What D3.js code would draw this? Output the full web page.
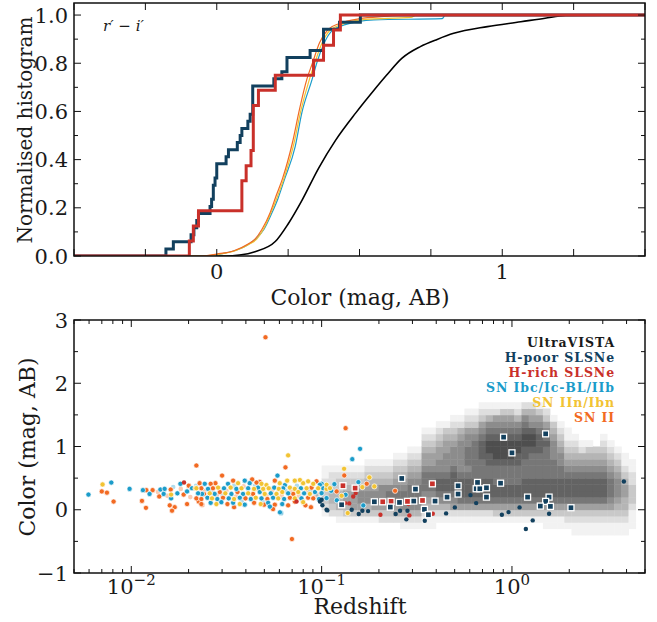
<!DOCTYPE html>
<html><head><meta charset="utf-8">
<script src="https://cdn.jsdelivr.net/npm/d3@7"></script>
<style>body{margin:0;background:#fff} text{font-family:"DejaVu Serif",serif;fill:#1a1a1a}</style>
</head><body><svg id="c" width="657" height="622"></svg>
<script>
// ---------- DATA ----------
// Top panel: cumulative colour distributions (r'-i')
const hPoorColors = [-0.178,-0.152,-0.09,-0.08,-0.07,-0.064,-0.0235,-0.018,-0.012,-0.012,-0.006,0.0,0.0,0.0327,0.041,0.072,0.082,0.088,0.109,0.117,0.126,0.126,0.126,0.126,0.2,0.228,0.246,0.246,0.327,0.374,0.374,0.374,0.43,0.503];
const hRichColors = [-0.096,-0.082,-0.064,0.088,0.088,0.103,0.12,0.128,0.128,0.128,0.146,0.205,0.339,0.374,0.409,0.433];
const ibcCdfX = [-0.5,-0.03,0.02,0.07,0.12,0.14,0.165,0.193,0.215,0.237,0.275,0.298,0.334,0.35,0.375,0.4,0.45,0.55,0.79,0.8,1.5];
const ibcCdfY = [0,0,0.01,0.025,0.055,0.075,0.11,0.178,0.24,0.317,0.455,0.594,0.733,0.8,0.88,0.93,0.96,0.98,0.985,1,1];
const iinCdfX = [-0.5,-0.04,0.01,0.065,0.115,0.14,0.163,0.19,0.212,0.234,0.27,0.294,0.325,0.343,0.368,0.395,0.44,0.52,0.68,0.7,1.5];
const iinCdfY = [0,0,0.008,0.022,0.05,0.07,0.11,0.18,0.245,0.317,0.465,0.6,0.735,0.8,0.882,0.935,0.962,0.982,0.99,1,1];
const iiCdfX = [-0.5,-0.05,0.0,0.06,0.11,0.134,0.158,0.187,0.208,0.23,0.265,0.29,0.316,0.335,0.36,0.39,0.43,0.5,0.6,0.65,1.5];
const iiCdfY = [0,0,0.008,0.022,0.05,0.07,0.11,0.18,0.25,0.32,0.47,0.61,0.735,0.8,0.885,0.94,0.965,0.985,0.995,1,1];
const vistaCdfX = [-0.5,0.03,0.08,0.134,0.205,0.251,0.298,0.357,0.416,0.487,0.552,0.596,0.649,0.713,0.772,0.83,0.948,1.065,1.15,1.222,1.5];
const vistaCdfY = [0,0,0.004,0.018,0.06,0.135,0.23,0.365,0.48,0.594,0.69,0.752,0.821,0.869,0.899,0.924,0.952,0.972,0.987,0.998,1];
const topXTicks = [-0.5,-0.25,0,0.25,0.5,0.75,1,1.25,1.5];
const topXLabels = {"0":"0","1":"1"};
const topYTicks = [0,0.1,0.2,0.3,0.4,0.5,0.6,0.7,0.8,0.9,1.0];

// Bottom panel: UltraVISTA 2D histogram (columns in log10 z, rows in colour, digit = density 0-9)
const gridLogZ0 = -1.0, gridDLogZ = 0.0375, gridC0 = -0.8, gridDC = 0.1;
const vistaGrid = [
"000000012332211","000000023443221","000000124443321","000000134554321","000000135554321",
"000000135665321","0000001346654321","0000001356654321","0000002356664321","0000002356764321",
"00000024577654321","00000124677654321","000001246777654321","000001246777654321","000001124567776554321",
"000001124567776554321","0000001246788766554321","0000001246788766655431","00000012567888766654321","00000012578887666665421",
"000000125788876777665321","000000125788877777765321","0000001257888777888765321","0000001257888778899876421","0000001357887778999876521",
"0000001357887778999876531","0000001357887778999876531","0000001357887778899876421","0000001357888777889987642","0000001357888777789986542",
"0000001357888777788876531","000001135788877777876532","00000113578887776665431","0000011357888776654321","000001235788876543211",
"00001123578887654321","0000112357888765421","0000112357888765431","000011235788876543","00001123578887654321",
"0000112356777654321","000011234566654321","00001123445543211","0000011123332211"];

// Bottom panel points: [log10 redshift, colour]
const snIbc = [[-2.225,0.24],[-2.105,0.43],[-2.009,0.33],[-1.939,0.31],[-1.904,0.25],[-1.847,0.32],[-1.825,0.33],[-1.83,0.25],[-1.791,0.18],[-1.758,0.26],[-1.742,0.41],[-1.707,0.29],[-1.681,0.34],[-1.628,0.25],
[-1.614,0.41],[-1.492,0.41],[-1.404,0.46],[-1.378,0.42],[-1.193,0.39],[-1.0,0.41],[-1.597,0.33],[-1.513,0.34],[-1.448,0.33],[-1.386,0.34],[-1.334,0.35],[-1.249,0.35],[-1.202,0.34],[-1.109,0.34],[-0.992,0.34],[-1.649,0.26],[-1.562,0.25],[-1.474,0.25],[-1.413,0.25],[-1.325,0.28],[-1.267,0.26],[-1.176,0.26],[-1.092,0.26],[-1.035,0.28],[-1.6,0.19],[-1.548,0.17],[-1.488,0.18],[-1.43,0.19],[-1.372,0.17],[-1.316,0.18],[-1.255,0.19],[-1.197,0.17],[-1.106,0.18],[-1.014,0.17],[-1.583,0.11],[-1.527,0.12],[-1.465,0.11],[-1.404,0.08],[-1.281,0.11],[-1.207,0.09],[-1.272,0.05],[-1.214,-0.05],[-1.232,0.54],[-1.219,-0.04],
[-0.798,0.963],[-0.839,0.80],[-0.807,0.437],[-0.874,0.237],[-0.933,0.405],[-1.0,0.263],[-0.974,0.184],[-1.009,0.395],[-0.781,0.069],[-0.95,0.3],[-0.92,0.15]];
const snIIn = [[-2.151,0.40],[-1.791,0.24],[-1.663,0.34],[-1.176,0.86],[-1.439,0.42],[-1.316,0.41],[-1.29,0.39],[-1.22,0.42],[-1.181,0.46],[-1.141,0.46],[-1.114,0.47],[-1.097,0.42],[-1.071,0.45],[-1.044,0.41],
[-1.658,0.34],[-1.544,0.35],[-1.478,0.35],[-1.421,0.34],[-1.355,0.33],[-1.307,0.33],[-1.278,0.34],[-1.225,0.33],[-1.167,0.35],[-1.141,0.33],[-1.079,0.34],[-1.018,0.34],[-0.974,0.33],
[-1.588,0.26],[-1.506,0.26],[-1.386,0.26],[-1.299,0.25],[-1.237,0.25],[-1.207,0.28],[-1.123,0.28],[-1.062,0.25],[-1.576,0.18],[-1.46,0.17],[-1.346,0.19],[-1.228,0.18],[-1.141,0.18],[-1.553,0.09],[-1.43,0.09],[-1.32,0.09],[-1.097,0.12],
[-0.882,0.648],[-0.749,0.511],[-0.723,0.369],[-0.786,0.358],[-0.895,0.221],[-0.863,-0.052],[-0.974,0.395],[-0.956,0.342]];
const snII = [[-2.155,0.29],[-2.128,0.27],[-2.093,0.13],[-1.921,0.31],[-1.888,0.31],[-1.944,0.14],[-1.923,0.03],[-1.853,0.21],[-1.793,0.32],[-1.798,0.07],[-1.772,0.04],[-1.786,-0.015],[-1.698,0.38],[-1.707,0.09],[-1.725,0.24],[-1.646,0.13],[-1.628,0.08],
[-1.658,0.70],[-1.19,0.67],[-1.523,0.54],[-1.365,0.48],[-1.465,0.46],[-1.246,0.46],[-1.325,0.44],[-1.558,0.42],[-1.641,0.42],[-1.583,0.41],[-1.342,0.43],[-1.027,0.45],[-1.632,0.34],[-1.571,0.34],[-1.053,0.35],
[-1.618,0.25],[-1.535,0.28],[-1.442,0.28],[-1.36,0.25],[-1.149,0.25],[-1.004,0.26],[-1.658,0.18],[-1.632,0.17],[-1.518,0.19],[-1.4,0.18],[-1.285,0.17],[-1.167,0.19],[-1.071,0.19],[-1.044,0.18],
[-1.632,0.09],[-1.495,0.09],[-1.355,0.11],[-1.246,0.08],[-1.176,0.07],[-1.141,0.13],[-1.085,0.07],[-1.056,0.04],[-1.46,0.04],[-1.302,0.08],[-1.255,0.01],
[-1.295,2.727],[-1.156,-0.463],[-0.874,1.29],[-0.881,0.542],[-0.763,0.411],[-0.921,0.29],[-0.614,0.30]];
// faint (lighter) members of the low-redshift cloud
const snIIPale = [[-1.86,0.28],[-1.81,0.22],[-1.74,0.33],[-1.69,0.2],[-1.62,0.3],[-1.55,0.22],[-1.50,0.3],[-1.45,0.21],[-1.41,0.37],[-1.37,0.22],[-1.33,0.30],[-1.29,0.22],[-1.26,0.31],[-1.21,0.22],[-1.16,0.3],[-1.12,0.22],[-1.08,0.3],[-1.03,0.22]];
const snIbcPale = [[-1.78,0.36],[-1.66,0.38],[-1.58,0.3],[-1.52,0.22],[-1.46,0.38],[-1.42,0.13],[-1.35,0.38],[-1.31,0.13],[-1.24,0.25],[-1.19,0.3],[-1.13,0.38],[-1.1,0.14],[-1.06,0.3],[-1.02,0.24]];
const hRichSq = [[-0.888,0.38],[-0.824,0.342],[-0.679,0.126],[-0.635,0.132],[-0.549,0.132],[-0.47,0.147],[-0.418,0.41]];
const hRichDot = [[-1.723,0.43],[-1.132,0.131],[-0.877,0.105],[-0.855,0.1],[-0.834,0.21],[-0.821,0.263],[-0.691,-0.079],[-0.544,0.09],[-0.539,-0.089],[-0.416,-0.063]];
const hPoorSq = [[-0.895,0.079],[-0.723,0.126],[-0.639,0.042],[-0.591,0.116],[-0.579,0.495],[-0.516,0.137],[-0.507,0.326],[-0.46,0.006],[-0.439,-0.079],[-0.404,0.137],[-0.341,0.2],[-0.283,0.379],[-0.283,0.248],[-0.181,0.432],[-0.188,0.332],[-0.169,0.332],[-0.134,0.347],[-0.134,0.2],[-0.06,0.42],[-0.044,1.148],[0.177,1.2],[0.0,0.9],[0.082,0.2],[0.195,0.2],[0.177,0.132],[0.149,0.058],[0.202,0.053],[0.31,0.032]];
const hPoorDot = [[-1.009,0.13],[-0.974,0.0],[-0.996,0.07],[-1.0,0.158],[-0.97,-0.01],[-0.842,0.0],[-0.805,-0.068],[-0.786,-0.015],[-0.756,-0.021],[-0.611,-0.068],[-0.588,-0.015],[-0.549,-0.015],[-0.555,-0.152],[-0.458,-0.173],[-0.346,-0.058],[-0.3,0.037],[-0.218,0.232],[-0.188,0.105],[-0.053,-0.079],[-0.018,-0.037],[0.04,0.037],[0.109,-0.168],[0.073,-0.305],[0.195,-0.063],[0.588,0.447]];

const legendLabels = ["UltraVISTA","H-poor SLSNe","H-rich SLSNe","SN Ibc/Ic-BL/IIb","SN IIn/Ibn","SN II"];
const legendColors = ["#1a1a1a","#12405e","#c9302a","#1b9cca","#f2c333","#f26a22"];
const bottomYTicks = [-1,-0.5,0,0.5,1,1.5,2,2.5,3];

// ---------- DRAW ----------
const C = {vista:"#000", hpoor:"#12405e", hrich:"#c9302a", ibc:"#1b9cca", iin:"#f2c333", ii:"#f26a22"};
const svg = d3.select("#c");
const X0 = 74, X1 = 645;
const FS = 21;

// ===== top panel =====
const xT = d3.scaleLinear().domain([-0.5,1.5]).range([X0,X1]);
const yT = d3.scaleLinear().domain([0,1.05]).range([256,3]);
const gT = svg.append("g");
gT.append("clipPath").attr("id","ct").append("rect").attr("x",X0).attr("y",3).attr("width",X1-X0).attr("height",253);
const gl = gT.append("g").attr("clip-path","url(#ct)");
const lineT = d3.line().x(d=>xT(d[0])).y(d=>yT(d[1]));
function curve(xs, ys, col, w){
  gl.append("path").datum(xs.map((v,i)=>[v,ys[i]])).attr("d",lineT.curve(d3.curveMonotoneX))
    .attr("fill","none").attr("stroke",col).attr("stroke-width",w).attr("stroke-linejoin","round");
}
function ecdf(vals){
  const s = vals.slice().sort((a,b)=>a-b), n = s.length, pts=[[-0.5,0]];
  s.forEach((v,i)=>{ if(i===n-1 || s[i+1]!==v) pts.push([v,(i+1)/n]); });
  pts.push([1.5,1]); return pts;
}
function step(vals, col, w){
  gl.append("path").datum(ecdf(vals)).attr("d",lineT.curve(d3.curveStepAfter))
   .attr("fill","none").attr("stroke",col).attr("stroke-width",w);
}
curve(vistaCdfX, vistaCdfY, C.vista, 1.6);
curve(ibcCdfX, ibcCdfY, C.ibc, 1.2);
curve(iinCdfX, iinCdfY, C.iin, 1.2);
curve(iiCdfX, iiCdfY, C.ii, 1.2);
step(hPoorColors, C.hpoor, 3);
step(hRichColors, C.hrich, 3);

gT.append("rect").attr("x",X0).attr("y",3).attr("width",X1-X0).attr("height",253).attr("fill","none").attr("stroke","#111").attr("stroke-width",1.5);
topXTicks.forEach(v=>{
  const x = xT(v);
  gT.append("line").attr("x1",x).attr("x2",x).attr("y1",256).attr("y2",249).attr("stroke","#111").attr("stroke-width",1);
  gT.append("line").attr("x1",x).attr("x2",x).attr("y1",3).attr("y2",10).attr("stroke","#111").attr("stroke-width",1);
  if (topXLabels[String(v)]!==undefined) gT.append("text").attr("x",x).attr("y",279).attr("text-anchor","middle").attr("font-size",FS).text(topXLabels[String(v)]);
});
topYTicks.forEach((v,i)=>{
  const y = yT(v), L = i%2===0 ? 7 : 4;
  gT.append("line").attr("x1",X0).attr("x2",X0+L).attr("y1",y).attr("y2",y).attr("stroke","#111");
  gT.append("line").attr("x1",X1).attr("x2",X1-L).attr("y1",y).attr("y2",y).attr("stroke","#111");
  if (i%2===0) gT.append("text").attr("x",68).attr("y",y).attr("dy","0.36em").attr("text-anchor","end").attr("font-size",FS).text(v.toFixed(1));
});
gT.append("text").attr("x",360).attr("y",305).attr("text-anchor","middle").attr("font-size",22).text("Color (mag, AB)");
gT.append("text").attr("transform","translate(32,130) rotate(-90)").attr("text-anchor","middle").attr("font-size",20).text("Normalised histogram");
gT.append("text").attr("x",103).attr("y",31).attr("font-size",15).attr("font-style","italic").text("r′ − i′");

// ===== bottom panel =====
const xB = d3.scaleLog().domain([0.005,5]).range([X0,X1]);
const yB = d3.scaleLinear().domain([-1,3]).range([573,320]);
const gB = svg.append("g");
gB.append("clipPath").attr("id","cb").append("rect").attr("x",X0).attr("y",320).attr("width",X1-X0).attr("height",253);
const gp = gB.append("g").attr("clip-path","url(#cb)");
const grey = k => { const g = Math.round(242 - 20.5*(k-1)); return `rgb(${g},${g},${g})`; };
vistaGrid.forEach((col,i)=>{
  const x0 = xB(10**(gridLogZ0+i*gridDLogZ)), x1 = xB(10**(gridLogZ0+(i+1)*gridDLogZ));
  for (let j=0;j<col.length;j++){
    const k = +col[j]; if(!k) continue;
    const yTop = yB(gridC0+(j+1)*gridDC), yBot = yB(gridC0+j*gridDC);
    gp.append("rect").attr("x",x0).attr("y",yTop).attr("width",x1-x0+0.4).attr("height",yBot-yTop+0.4).attr("fill",grey(k));
  }
});
function dots(arr, col, r, stroke, sw, op){
  gp.selectAll(null).data(arr).enter().append("circle")
    .attr("cx",d=>xB(10**d[0])).attr("cy",d=>yB(d[1])).attr("r",r)
    .attr("fill",col).attr("stroke",stroke).attr("stroke-width",sw).attr("opacity",op||1);
}
function squares(arr, col, s){
  gp.selectAll(null).data(arr).enter().append("rect")
    .attr("x",d=>xB(10**d[0])-s/2).attr("y",d=>yB(d[1])-s/2).attr("width",s).attr("height",s)
    .attr("fill",col).attr("stroke","#fff").attr("stroke-width",1.3);
}
dots(snIIPale, C.ii, 2.3, "none", 0, 0.35);
dots(snIbcPale, C.ibc, 2.3, "none", 0, 0.35);
dots(snII, C.ii, 2.6, "#fff", 0.7);
dots(snIbc, C.ibc, 2.6, "#fff", 0.7);
dots(snIIn, C.iin, 2.6, "#fff", 0.7);
dots(hRichDot, C.hrich, 2.2, "none", 0);
dots(hPoorDot, C.hpoor, 2.2, "none", 0);
squares(hRichSq, C.hrich, 6);
squares(hPoorSq, C.hpoor, 6);

gB.append("rect").attr("x",X0).attr("y",320).attr("width",X1-X0).attr("height",253).attr("fill","none").attr("stroke","#111").attr("stroke-width",1.5);
xB.ticks().forEach(v=>{
  const x = xB(v), m = Math.round(v/10**Math.floor(Math.log10(v)+1e-9)), L = m===1 ? 7 : 4;
  gB.append("line").attr("x1",x).attr("x2",x).attr("y1",573).attr("y2",573-L).attr("stroke","#111");
  gB.append("line").attr("x1",x).attr("x2",x).attr("y1",320).attr("y2",320+L).attr("stroke","#111");
  if (m===1){
    const t = gB.append("text").attr("x",x).attr("y",594).attr("text-anchor","middle").attr("font-size",FS);
    t.append("tspan").text("10");
    t.append("tspan").attr("dy",-9).attr("font-size",15).text(String(Math.round(Math.log10(v))).replace("-","−"));
  }
});
bottomYTicks.forEach(v=>{
  const y = yB(v), L = Number.isInteger(v) ? 7 : 4;
  gB.append("line").attr("x1",X0).attr("x2",X0+L).attr("y1",y).attr("y2",y).attr("stroke","#111");
  gB.append("line").attr("x1",X1).attr("x2",X1-L).attr("y1",y).attr("y2",y).attr("stroke","#111");
  if (Number.isInteger(v)) gB.append("text").attr("x",68).attr("y",y).attr("dy","0.36em").attr("text-anchor","end").attr("font-size",FS).text(String(v).replace("-","−"));
});
gB.append("text").attr("x",360).attr("y",614).attr("text-anchor","middle").attr("font-size",22).text("Redshift");
gB.append("text").attr("transform","translate(35,447) rotate(-90)").attr("text-anchor","middle").attr("font-size",22).text("Color (mag, AB)");
legendLabels.forEach((t,i)=>{
  gB.append("text").attr("x",615).attr("y",347+15*i).attr("text-anchor","end").attr("font-size",12.5).attr("font-weight","bold")
    .attr("letter-spacing",0.9).style("fill",legendColors[i]).text(t);
});
</script></body></html>
